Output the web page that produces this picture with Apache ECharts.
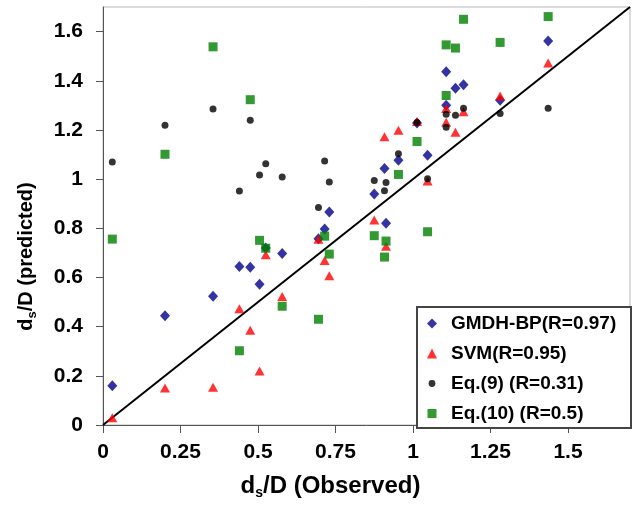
<!DOCTYPE html>
<html><head><meta charset="utf-8">
<script src="https://cdn.jsdelivr.net/npm/echarts@6/dist/echarts.min.js"></script>
<style>html,body{margin:0;padding:0;background:#fff}#c{width:635px;height:505px}</style>
</head><body><div id="c"></div>
<script>
// Observed values (shared x for all models)
const observed = [0.03, 0.2, 0.355, 0.44, 0.475, 0.505, 0.525, 0.578, 0.695, 0.715, 0.73, 0.875, 0.908, 0.913, 0.953, 1.013, 1.047, 1.107, 1.107, 1.137, 1.163, 1.281, 1.436];
// Predicted values per model
const gmdhBP = [0.160, 0.444, 0.524, 0.645, 0.642, 0.572, 0.72, 0.697, 0.757, 0.797, 0.866, 0.939, 1.043, 0.821, 1.077, 1.228, 1.097, 1.437, 1.300, 1.370, 1.384, 1.321, 1.562];
const svm    = [0.029, 0.150, 0.154, 0.473, 0.385, 0.220, 0.692, 0.523, 0.755, 0.669, 0.607, 0.834, 1.172, 0.727, 1.199, 1.234, 0.992, 1.287, 1.231, 1.191, 1.274, 1.338, 1.472];
const eq9    = [1.070, 1.219, 1.285, 0.952, 1.239, 1.017, 1.062, 1.009, 0.885, 1.074, 0.988, 0.994, 0.953, 0.986, 1.103, 1.23, 1.002, 1.264, 1.211, 1.260, 1.288, 1.267, 1.288];
const eq10   = [0.756, 1.101, 1.538, 0.302, 1.323, 0.751, 0.719, 0.483, 0.430, 0.768, 0.695, 0.770, 0.683, 0.748, 1.019, 1.153, 0.786, 1.546, 1.340, 1.533, 1.650, 1.556, 1.661];
// Reference line y = x
const refLineX = [0, 1.7];
const refLineY = [0, 1.7];
// Ticks
const xTicks = [0, 0.25, 0.5, 0.75, 1, 1.25, 1.5];
const yTicks = [0, 0.2, 0.4, 0.6, 0.8, 1, 1.2, 1.4, 1.6];
const seriesNames = ['GMDH-BP(R=0.97)', 'SVM(R=0.95)', 'Eq.(9) (R=0.31)', 'Eq.(10) (R=0.5)'];

const FONT = 'Liberation Sans, Arial, sans-serif';
const pair = (xs, ys) => xs.map((x, i) => [x, ys[i]]);
// small legend circle inside a padded 10x10 box
const smallCircleIcon = 'path://M0,0M10,10M5,1.6A3.4,3.4,0,1,1,5,8.4A3.4,3.4,0,1,1,5,1.6Z';
const smallRectIcon = 'path://M0,0M10,10M0.5,0.5L9.5,0.5L9.5,9.5L0.5,9.5Z';

const chart = echarts.init(document.getElementById('c'), null, {renderer: 'canvas'});
chart.setOption({
  backgroundColor: '#fff',
  animation: false,
  textStyle: {fontFamily: FONT},
  grid: {left: 103, right: 5, top: 7, bottom: 75, show: true, borderColor: '#b8b8b8', borderWidth: 1},
  xAxis: {
    type: 'value', min: 0, max: 1.7,
    name: '{n|d}{s|s}{n|/D (Observed)}',
    nameLocation: 'middle', nameGap: 47, nameMoveOverlap: false,
    nameTextStyle: {padding: [0, 72, 0, 0], rich: {
      n: {fontSize: 24, fontWeight: 'bold', color: '#000', fontFamily: FONT, lineHeight: 28},
      s: {fontSize: 14, fontWeight: 'bold', color: '#000', fontFamily: FONT, lineHeight: 28, verticalAlign: 'bottom'}
    }},
    axisLine: {show: true, lineStyle: {color: '#555', width: 1}},
    axisTick: {show: true, length: 8, lineStyle: {color: '#555'}, customValues: xTicks},
    axisLabel: {customValues: xTicks, margin: 17, fontSize: 21, fontWeight: 'bold', color: '#000', fontFamily: FONT},
    splitLine: {show: false}
  },
  yAxis: {
    type: 'value', min: 0, max: 1.7,
    name: '{n|d}{s|s}{n|/D (predicted)}',
    nameLocation: 'middle', nameGap: 64, nameRotate: 90, nameMoveOverlap: false,
    nameTextStyle: {padding: [0, 81, 0, 0], rich: {
      n: {fontSize: 20, fontWeight: 'bold', color: '#000', fontFamily: FONT, lineHeight: 26},
      s: {fontSize: 13, fontWeight: 'bold', color: '#000', fontFamily: FONT, lineHeight: 26, verticalAlign: 'bottom'}
    }},
    axisLine: {show: true, lineStyle: {color: '#555', width: 1}},
    axisTick: {show: true, length: 7, lineStyle: {color: '#555'}, customValues: yTicks},
    axisLabel: {customValues: yTicks, margin: 20, fontSize: 21, fontWeight: 'bold', color: '#000', fontFamily: FONT},
    splitLine: {show: false}
  },
  legend: {
    orient: 'vertical', left: 427, top: 313, padding: 0,
    itemWidth: 10, itemHeight: 10, itemGap: 9,
    textStyle: {fontSize: 19, fontWeight: 'bold', color: '#000', fontFamily: FONT, lineHeight: 21, padding: [0, 0, 0, 9]},
    data: [
      {name: seriesNames[0], icon: 'diamond'},
      {name: seriesNames[1], icon: 'triangle'},
      {name: seriesNames[2], icon: smallCircleIcon},
      {name: seriesNames[3], icon: smallRectIcon}
    ]
  },
  graphic: [{
    type: 'rect', left: 416, top: 306, z: 1,
    shape: {width: 214, height: 121},
    style: {fill: '#fff', stroke: '#444', lineWidth: 2}
  }],
  series: [
    {type: 'line', data: pair(refLineX, refLineY), symbol: 'none', silent: true, z: 1,
     lineStyle: {color: '#000', width: 2}},
    {type: 'scatter', name: seriesNames[0], data: pair(observed, gmdhBP), symbol: 'diamond', symbolSize: [10, 11],
     itemStyle: {color: '#00008b'}},
    {type: 'scatter', name: seriesNames[1], data: pair(observed, svm), symbol: 'triangle', symbolSize: [10, 9],
     itemStyle: {color: '#ff0000'}},
    {type: 'scatter', name: seriesNames[2], data: pair(observed, eq9), symbol: 'circle', symbolSize: 7,
     itemStyle: {color: '#000'}},
    {type: 'scatter', name: seriesNames[3], data: pair(observed, eq10), symbol: 'rect', symbolSize: 9,
     itemStyle: {color: '#008000'}}
  ]
});
</script></body></html>
